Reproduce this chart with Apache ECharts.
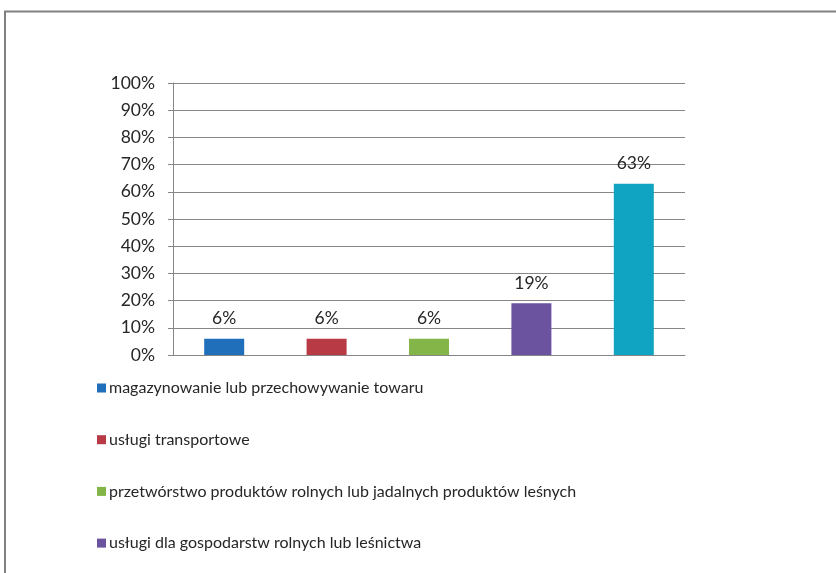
<!DOCTYPE html>
<html><head><meta charset="utf-8">
<script src="https://cdn.jsdelivr.net/npm/echarts@6/dist/echarts.min.js"></script>
<style>html,body{margin:0;padding:0;background:#fff}#c{width:836px;height:573px}</style>
</head><body><div id="c"></div>
<script>
const categories = ['1','2','3','4','5'];
const seriesNames = [
  'magazynowanie lub przechowywanie towaru',
  'usługi transportowe',
  'przetwórstwo produktów rolnych lub jadalnych produktów leśnych',
  'usługi dla gospodarstw rolnych lub leśnictwa',
  'inne'
];
const values = [6, 6, 6, 19, 63];
const colors = ['#1F6FBA', '#B83A44', '#84B548', '#6B53A0', '#11A3C2'];
const yTicks = [0, 10, 20, 30, 40, 50, 60, 70, 80, 90, 100];

const FONT = 'Lato';
const series = seriesNames.map((name, i) => ({
  name: name,
  type: 'bar',
  barWidth: 40,
  barGap: '-100%',
  itemStyle: { color: colors[i] },
  label: { show: true, position: 'top', distance: 11, formatter: '{c}%', color: '#262626', fontFamily: FONT, fontSize: 17.5 },
  data: categories.map((c, j) => j === i ? values[i] : null)
}));

const chart = echarts.init(document.getElementById('c'));
chart.setOption({
  animation: false,
  backgroundColor: '#fff',
  grid: { left: 173, right: 151, top: 83, bottom: 218 },
  xAxis: {
    type: 'category', data: categories,
    axisLine: { lineStyle: { color: '#868686', width: 1 } },
    axisTick: { show: false }, axisLabel: { show: false }
  },
  yAxis: {
    type: 'value', min: yTicks[0], max: yTicks[yTicks.length - 1], interval: 10,
    axisLine: { show: true, lineStyle: { color: '#868686' } },
    axisTick: { show: true, length: 5, lineStyle: { color: '#868686' } },
    axisLabel: { formatter: '{value}%', color: '#262626', fontFamily: FONT, fontSize: 17.5, margin: 18 },
    splitLine: { lineStyle: { color: '#868686' } }
  },
  legend: {
    data: seriesNames.slice(0, 4),
    orient: 'vertical', left: 92, top: 373,
    icon: 'rect', itemWidth: 9, itemHeight: 9, itemGap: 31.7,
    textStyle: { color: '#262626', fontFamily: FONT, fontSize: 16, lineHeight: 20, padding: [0,0,0,-2] },
    selectedMode: false
  },
  graphic: [{
    type: 'polyline', silent: true,
    shape: { points: [[5, 580], [5, 11.5], [840, 11.5]] },
    style: { stroke: '#808080', lineWidth: 2, fill: null }
  }],
  series: series
});
</script></body></html>
